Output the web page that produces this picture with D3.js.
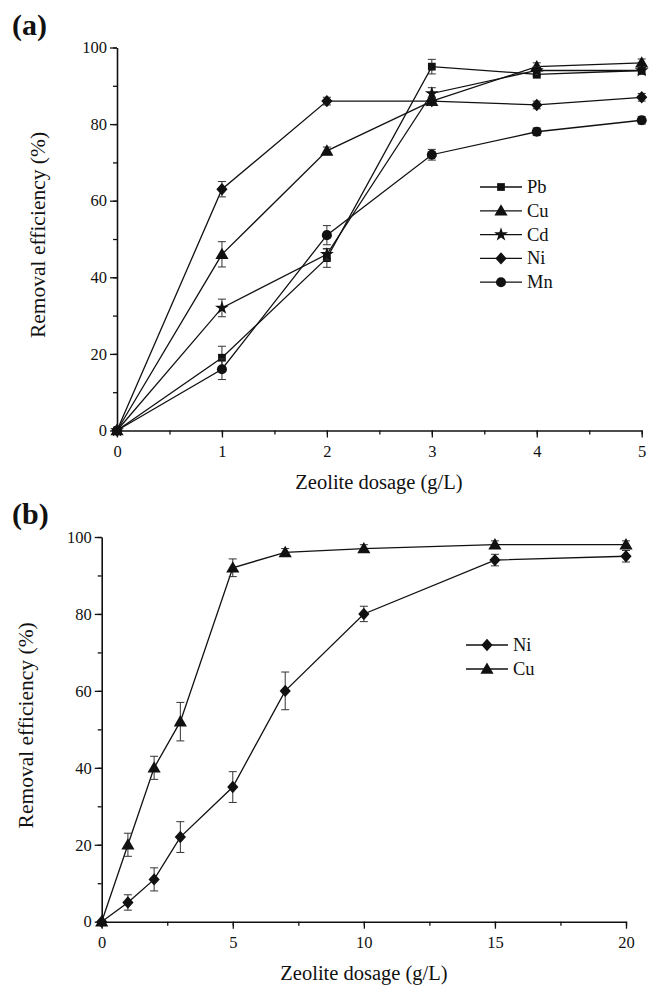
<!DOCTYPE html>
<html>
<head>
<meta charset="utf-8">
<script src="https://cdn.jsdelivr.net/npm/d3@7"></script>
<style>
  body { margin: 0; background: #fff; }
  svg text { font-family: "Liberation Serif", "Times New Roman", serif; fill: #111; }
</style>
</head>
<body>
<div class="chart"></div>
<script>
// panel (a)
var dosageA = [0, 1, 2, 3, 4, 5];
var pbA = [0, 19, 45, 95, 93, 94];
var cuA = [0, 46, 73, 86, 95, 96];
var cdA = [0, 32, 46, 88, 94, 94];
var niA = [0, 63, 86, 86, 85, 87];
var mnA = [0, 16, 51, 72, 78, 81];
var pbErrA = [0, 3, 2.4, 1.9, 1, 1];
var cuErrA = [0, 3.3, 1, 1, 1, 1];
var cdErrA = [0, 2.3, 1.5, 1.5, 1, 1];
var niErrA = [0, 2, 1, 1, 1, 1];
var mnErrA = [0, 2.7, 2.5, 1.4, 1, 1];
var namesA = ["Pb", "Cu", "Cd", "Ni", "Mn"];

// panel (b)
var dosageB = [0, 1, 2, 3, 5, 7, 10, 15, 20];
var niB = [0, 5, 11, 22, 35, 60, 80, 94, 95];
var cuB = [0, 20, 40, 52, 92, 96, 97, 98, 98];
var niErrB = [0, 2, 3, 4, 4, 4.9, 2, 1.5, 1.5];
var cuErrB = [0, 3, 3, 5, 2.3, 1, 1, 1, 1];
var namesB = ["Ni", "Cu"];

var yTicks = [0, 20, 40, 60, 80, 100];

var svg = d3.select(".chart")
  .append("svg")
  .attr("width", 652)
  .attr("height", 986);

// rhombus close to what the figure uses for Ni
var rhombus = {
  draw: function(ctx, size) {
    var w = 5.6, h = 6.2;
    ctx.moveTo(0, -h);
    ctx.lineTo(w, 0);
    ctx.lineTo(0, h);
    ctx.lineTo(-w, 0);
    ctx.closePath();
  }
};

var shapes = {
  Pb: { type: d3.symbolSquare, size: 60 },
  Cu: { type: d3.symbolTriangle, size: 75 },
  Cd: { type: d3.symbolStar, size: 60 },
  Ni: { type: rhombus, size: 1 },
  Mn: { type: d3.symbolCircle, size: 80 }
};

function marker(g, name, x, y) {
  var s = shapes[name];
  var sym = d3.symbol().type(s.type).size(s.size);
  var dy = name === "Cu" ? 1 : 0;
  g.append("path")
    .attr("d", sym())
    .attr("transform", "translate(" + x + "," + (y + dy) + ")")
    .attr("fill", "#111");
}

function drawPanel(opt) {
  var g = svg.append("g");
  var x = d3.scaleLinear().domain(opt.xDomain).range([opt.left, opt.right]);
  var y = d3.scaleLinear().domain([0, 100]).range([opt.bottom, opt.top]);

  // minor ticks
  var minorX = d3.range(opt.xDomain[0], opt.xDomain[1] + 0.001, opt.xMinor);
  g.append("g")
    .attr("transform", "translate(0," + opt.bottom + ")")
    .call(d3.axisBottom(x).tickValues(minorX).tickSize(4).tickFormat(""))
    .call(function(a) { a.select(".domain").remove(); });
  g.append("g")
    .attr("transform", "translate(" + opt.left + ",0)")
    .call(d3.axisLeft(y).tickValues(d3.range(0, 101, 10)).tickSize(4).tickFormat(""))
    .call(function(a) { a.select(".domain").remove(); });

  g.append("g")
    .attr("transform", "translate(0," + opt.bottom + ")")
    .call(d3.axisBottom(x).tickValues(opt.xTicks).tickFormat(d3.format("d"))
      .tickSize(7).tickSizeOuter(0).tickPadding(8));
  g.append("g")
    .attr("transform", "translate(" + opt.left + ",0)")
    .call(d3.axisLeft(y).tickValues(yTicks).tickFormat(d3.format("d"))
      .tickSize(7).tickSizeOuter(0).tickPadding(3));

  g.selectAll(".tick line").attr("stroke", "#111").attr("stroke-width", 1.3);
  g.selectAll(".domain").attr("stroke", "#111").attr("stroke-width", 1.6);
  g.selectAll(".tick text")
    .style("font-family", "Liberation Serif, serif")
    .style("font-size", "16.5px")
    .attr("fill", "#111");

  // series
  var line = d3.line()
    .x(function(d) { return x(d.x); })
    .y(function(d) { return y(d.y); });

  opt.series.forEach(function(s) {
    var pts = opt.xs.map(function(v, i) { return { x: v, y: s.values[i], e: s.err[i] }; });
    g.append("path")
      .datum(pts)
      .attr("d", line)
      .attr("fill", "none")
      .attr("stroke", "#111")
      .attr("stroke-width", 1.3);

    pts.forEach(function(p) {
      if (p.e > 0) {
        var cx = x(p.x);
        var y1 = y(p.y + p.e), y2 = y(p.y - p.e);
        g.append("line").attr("x1", cx).attr("x2", cx).attr("y1", y1).attr("y2", y2)
          .attr("stroke", "#333").attr("stroke-width", 1);
        [y1, y2].forEach(function(yy) {
          g.append("line").attr("x1", cx - 4).attr("x2", cx + 4).attr("y1", yy).attr("y2", yy)
            .attr("stroke", "#333").attr("stroke-width", 1);
        });
      }
      marker(g, s.name, x(p.x), y(p.y));
    });
  });

  // legend
  opt.series.forEach(function(s, i) {
    var ly = opt.legendY + i * opt.legendStep;
    g.append("line")
      .attr("x1", opt.legendX).attr("x2", opt.legendX + 42)
      .attr("y1", ly).attr("y2", ly)
      .attr("stroke", "#111").attr("stroke-width", 1.3);
    marker(g, s.name, opt.legendX + 21, ly);
    g.append("text")
      .attr("x", opt.legendX + 47)
      .attr("y", ly + 6)
      .style("font-size", "18.5px")
      .text(s.name);
  });

  // axis titles
  g.append("text")
    .attr("x", opt.titleX)
    .attr("y", opt.titleY)
    .attr("text-anchor", "middle")
    .style("font-size", "20.5px")
    .text("Zeolite dosage (g/L)");

  g.append("text")
    .attr("transform", "translate(" + opt.yTitleX + "," + ((opt.top + opt.bottom) / 2 - 4) + ") rotate(-90)")
    .attr("text-anchor", "middle")
    .style("font-size", "21.5px")
    .text("Removal efficiency (%)");

  g.append("text")
    .attr("x", opt.labelX)
    .attr("y", opt.labelY)
    .style("font-size", "30px")
    .style("font-weight", "bold")
    .text(opt.label);
}

drawPanel({
  xDomain: [0, 5], xTicks: [0, 1, 2, 3, 4, 5], xMinor: 0.5,
  left: 117, right: 641.7, top: 47.5, bottom: 430.5,
  xs: dosageA,
  series: [
    { name: namesA[0], values: pbA, err: pbErrA },
    { name: namesA[1], values: cuA, err: cuErrA },
    { name: namesA[2], values: cdA, err: cdErrA },
    { name: namesA[3], values: niA, err: niErrA },
    { name: namesA[4], values: mnA, err: mnErrA }
  ],
  legendX: 480, legendY: 187, legendStep: 23.8,
  titleX: 379, titleY: 489, yTitleX: 45,
  label: "(a)", labelX: 12, labelY: 35
});

drawPanel({
  xDomain: [0, 20], xTicks: [0, 5, 10, 15, 20], xMinor: 2.5,
  left: 101.7, right: 626, top: 537, bottom: 921.7,
  xs: dosageB,
  series: [
    { name: namesB[0], values: niB, err: niErrB },
    { name: namesB[1], values: cuB, err: cuErrB }
  ],
  legendX: 466, legendY: 645, legendStep: 24,
  titleX: 364, titleY: 980, yTitleX: 33,
  label: "(b)", labelX: 12, labelY: 524
});
</script>
</body>
</html>
